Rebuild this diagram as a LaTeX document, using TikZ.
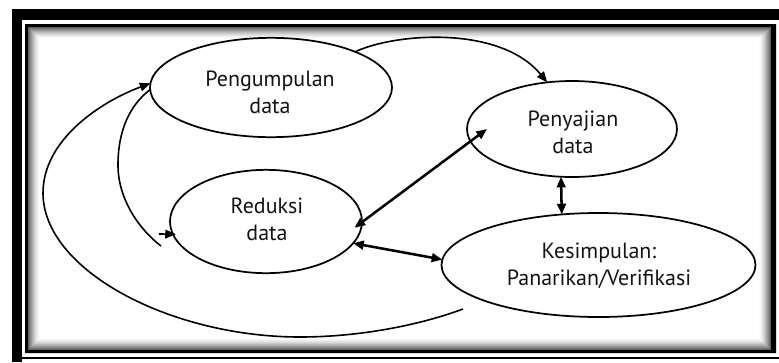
\documentclass[tikz,border=0pt]{standalone}
\usepackage{fontspec}
\setmainfont{PT Sans}
\usetikzlibrary{shapes.geometric,arrows.meta,calc}
\begin{document}
\begin{tikzpicture}[x=0.75pt,y=-0.75pt,
  oval/.style={ellipse,draw,line width=1.3pt,inner sep=0pt,outer sep=0pt},
  lbl/.style={align=center,font=\fontsize{16.5}{20.25}\selectfont,text=black!92,inner sep=0pt,anchor=base},
  tip/.style={-{Triangle[length=8pt,width=6.5pt]}},
  arc/.style={line width=1.2pt,tip},
  plain/.style={line width=1.2pt},
  dbl/.style={{Triangle[length=8pt,width=6.5pt]}-{Triangle[length=8pt,width=6.5pt]},line width=1.9pt}
]
\useasboundingbox (0,0) rectangle (779,362);
\fill[white] (0,0) rectangle (779,362);
% frame
\fill[black] (12,9) rectangle (779,20);
\fill[black] (12,9) rectangle (22,362);
\fill[black] (22,357) rectangle (779,359);
\fill[black,even odd rule] (25,24) rectangle (776,353) (28,27) rectangle (771,350);
\foreach \i in {0,...,11} {
  \pgfmathsetmacro\g{62*(1-\i/12)^1.6}
  \draw[black!\g,line width=0.8pt] (28.5+\i,27.5+\i) rectangle (770.5-\i,349.5-\i);
}
% ellipses
\node[oval,minimum width=181.5pt,minimum height=74.5pt] (p) at (271,87.5) {};
\node[oval,minimum width=157.5pt,minimum height=72pt] (s) at (572,129) {};
\node[oval,minimum width=144pt,minimum height=77.5pt] (r) at (266,221.5) {};
\node[oval,minimum width=235.5pt,minimum height=78pt] (k) at (598.5,265) {};
% labels (base = baseline of the last line)
\node[lbl] (pl) at (270,113) {Pengumpulan\\data};
\node[lbl] (sl) at (573,153) {Penyajian\\data};
\node[lbl] (rl) at (267,240) {Reduksi\\data};
\node[lbl] (kl) at (599,285) {Kesimpulan:\\Panarikan/Verifikasi};
% free ends
\coordinate (ke) at (463,309);
\coordinate (ie) at (161,246);
\coordinate (ss) at (159,234);
% connectors
\draw[arc] (p.23) .. controls (395,33) and (500,25) .. (s.118);
\draw[dbl] ($(r.center)!0.93!(r.-4)$) -- ($(s.west)!0.19!(s.center)$);
\draw[dbl] (r.-14) -- (k.178);
\draw[dbl] (s.257) -- (k.126);
\draw[arc] (ke) .. controls (420,325) and (360,337) .. (300,337)
  .. controls (170,337) and (43,270) .. (43,193)
  .. controls (43,140) and (100,102) .. (p.178);
\draw[plain] (p.181) .. controls (130,105) and (118,130) .. (118,165)
  .. controls (118,200) and (140,230) .. (ie);
\draw[arc] (ss) -- ($(r.center)!0.97!(r.188)$);
\end{tikzpicture}
\end{document}
